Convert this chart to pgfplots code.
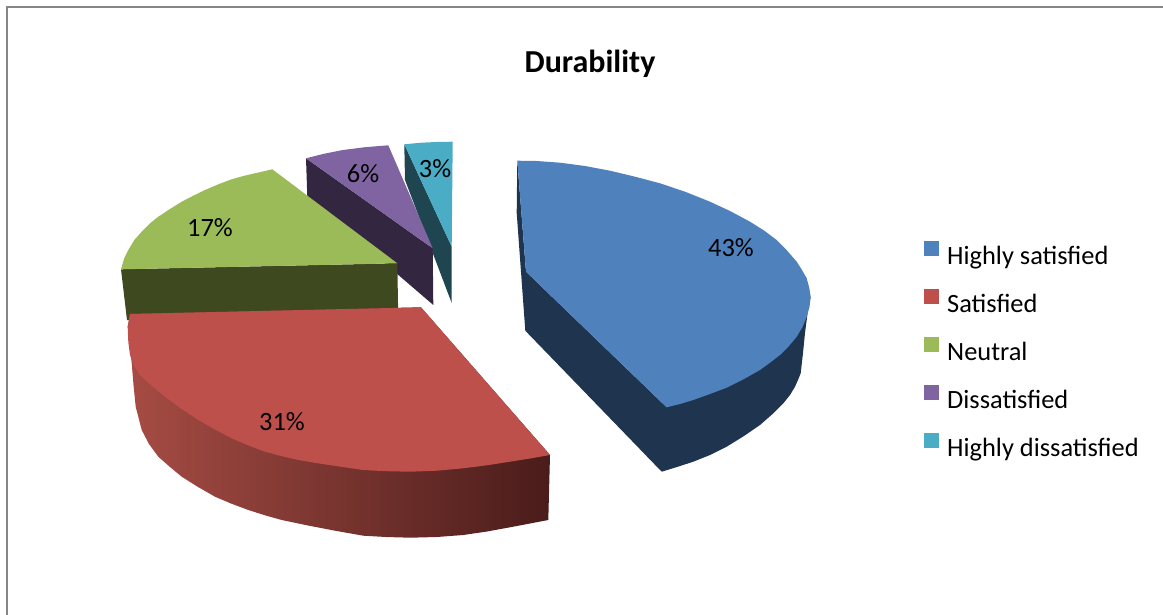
\documentclass[border=0pt]{standalone}
\usepackage{pgfplots}
\pgfplotsset{compat=1.18}
\usepackage{fontspec}
\setmainfont{Carlito}
\definecolor{blueTop}{HTML}{4F81BD}
\definecolor{blueSide}{HTML}{1F344E}
\definecolor{redTop}{HTML}{BE504C}
\definecolor{greenTop}{HTML}{9BBB59}
\definecolor{greenSide}{HTML}{3F4920}
\definecolor{purpleTop}{HTML}{8064A2}
\definecolor{purpleSide}{HTML}{322640}
\definecolor{tealTop}{HTML}{4BACC6}
\definecolor{tealSide}{HTML}{1F4650}
\begin{document}
\begin{tikzpicture}
\begin{axis}[
  scale only axis, width=1163pt, height=615pt,
  xmin=0, xmax=1163, ymin=0, ymax=615, y dir=reverse,
  axis lines=box, axis line style={draw=none}, ticks=none, clip=true,
  legend image code/.code={\path[draw=none,fill=none] (0pt,0pt) -- (20pt,0pt);\fill[draw=none,#1] (0pt,0pt) rectangle (15pt,15pt);},
  legend cell align=left,
  legend style={at={(axis cs:921,239)}, anchor=north west, draw=none, fill=none,
    font=\fontsize{26.4}{30}\selectfont, row sep=23pt,
    nodes={inner xsep=3pt, inner ysep=0pt}},
]
% chart frame
\addplot[forget plot, draw={rgb,255:red,134;green,134;blue,134}, line width=2pt] coordinates {(7,615)(7,7)(1163,7)};

% highly dissatisfied, 3%
\addplot[forget plot, draw=none, fill=tealSide] coordinates {(404.3,144.3)(405,180)(451.7,303)(451.7,246.7)} -- cycle;
\addplot[forget plot, draw=none, fill=tealTop] coordinates {(404.3,144.3)(420,142.8)(436,142)(452.7,141.7)(451.7,246.7)} -- cycle;

% dissatisfied, 6%
\addplot[forget plot, draw=none, fill=purpleSide] coordinates {(306,158.3)(307.3,196.7)(433.3,305)(432.7,248.3)} -- cycle;
\addplot[forget plot, draw=none, fill=purpleTop] coordinates {(306,158.3)(324,153.8)(343,150)(365,147.2)(388.3,145.3)(432.7,248.3)} -- cycle;

% neutral, 17%
\addplot[forget plot, draw=none, fill=greenSide] coordinates {(121,269.3)(397.3,263.3)(398.3,320)(127,320)} -- cycle;
\addplot[forget plot, draw=none, fill=greenTop] coordinates {(121,269.3)(124.3,258)(128.3,250)(134.3,240)(141.7,231.7)(150,223.3)(158.3,216.7)(170,209)(181.7,201.7)(193.3,195.7)(205,190)(218.3,184.3)(231.7,179.3)(243.3,176)(255,173.3)(272.3,169.3)(397.3,263.3)} -- cycle;

% satisfied, 31%
\addplot[forget plot, draw=none, left color={rgb,255:red,166;green,76;blue,68}, middle color={rgb,255:red,130;green,54;blue,54}, right color={rgb,255:red,74;green,28;blue,26}]
 coordinates {(130,314)(127.7,326.7)(129.5,345)(131.7,363)(133.5,385)(135.7,406.7)(141.7,430)(149,444)(158.3,456.7)(170,467)(181.7,476.7)(198,487)(215,496.7)(231,503.5)(248.3,510)(265,515.3)(281.7,520)(308,525.5)(335,530.7)(363.3,535.7)(386,537)(410,537.7)(437,537)(463.3,535)(487,531.5)(510,527.3)(530,523.5)(548.3,520)(550,455)(421,307.3)} -- cycle;
\addplot[forget plot, draw=none, fill=redTop] coordinates {(130,314)(127.7,326.7)(128.3,342)(130,355)(134,365.5)(140,375)(152,386)(165,396.7)(181,408.5)(198.3,420)(215,429.5)(231.7,438.3)(248,445.3)(265,451.7)(281,456)(298.3,460)(316,463)(335,465.9)(363.3,470)(386,471.2)(410,471.7)(437,470.7)(463.3,468.3)(487,465.3)(510,461.7)(530,458.5)(550,455)(421,307.3)} -- cycle;

% highly satisfied, 43%
\addplot[forget plot, draw=none, fill=blueSide] coordinates {(517.3,160.7)(516.7,213)(525.3,330.7)(661.7,471.7)(677,467)(693.3,461.7)(710,455)(726.7,446.7)(744,436)(760,425)(772,414.5)(783.3,403.3)(790,395)(795,386.7)(798,380)(800.7,373.3)(803,353)(805,333)(808,310)(810.7,296.7)(666.7,407.3)(526,271.7)} -- cycle;
\addplot[forget plot, draw=none, fill=blueTop] coordinates {(517.3,160.7)(536.7,161)(560,162.7)(585,166)(610,170.7)(635,176.7)(660,183.3)(685,191.7)(710,201.7)(730,211)(750,221.7)(764,230.5)(776.7,240)(787,250.5)(796.7,261.7)(802,270)(806.7,278.3)(809.3,288)(810.7,297)(809.5,307)(806.7,316.7)(802.5,327)(796.7,336.7)(789,346)(780,355)(770,362.7)(760,370)(744,379)(726.7,387.7)(710,394)(693.3,400)(680,404)(666.7,407.3)(526,271.7)} -- cycle;

% legend entries in series order
\addlegendimage{fill=blueTop}\addlegendentry{Highly satisfied}
\addlegendimage{fill=redTop}\addlegendentry{Satisfied}
\addlegendimage{fill=greenTop}\addlegendentry{Neutral}
\addlegendimage{fill=purpleTop}\addlegendentry{Dissatisfied}
\addlegendimage{fill=tealTop}\addlegendentry{Highly dissatisfied}

% title and share labels
\node[font=\fontsize{32}{36}\selectfont\bfseries] at (axis cs:590,64) {Durability};
\begin{scope}[every node/.style={font=\fontsize{26.4}{30}\selectfont}]
\node at (axis cs:731,248) {43\%};
\node at (axis cs:282,422) {31\%};
\node at (axis cs:210,228) {17\%};
\node at (axis cs:363,174) {6\%};
\node at (axis cs:435,169) {3\%};
\end{scope}
\end{axis}
\end{tikzpicture}
\end{document}
